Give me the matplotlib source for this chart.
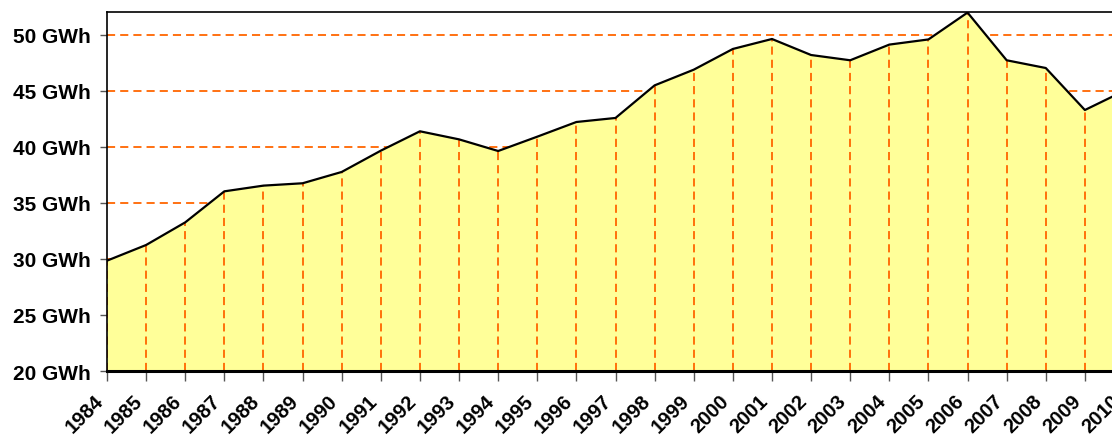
import numpy as np
import matplotlib
matplotlib.use("Agg")
import matplotlib.pyplot as plt

# yearly values (GWh)
years = list(range(1984, 2011))
energy = [29.85, 31.25, 33.27, 36.04, 36.55, 36.76, 37.77, 39.67, 41.4, 40.68,
          39.64, 40.92, 42.23, 42.59, 45.5, 46.9, 48.75, 49.64, 48.21, 47.74,
          49.14, 49.6, 52.0, 47.74, 47.05, 43.3, 45.0]
y_ticks = [20, 25, 30, 35, 40, 45, 50]
y_labels = [f"{v} GWh" for v in y_ticks]

orange = "#FF6600"
dash = (0, (4.5, 2.8))

plt.rcParams['font.family'] = ['Liberation Sans', 'DejaVu Sans']

fig = plt.figure(figsize=(11.12, 4.39), dpi=100)
# axes runs a bit past the right edge of the picture, as in the original
ax = fig.add_axes([107 / 1112, 67 / 439, (1124 - 107) / 1112, (372 - 13) / 439])

ax.fill_between(years, 20, energy, color="#FFFF99", zorder=2, linewidth=0)
ax.plot(years, energy, color="black", linewidth=1.6, zorder=4)
ax.vlines(years, 20, energy, colors=orange, linestyles=dash, linewidth=1.3, zorder=3)

ax.set_xlim(1984, 2010)
ax.set_ylim(20, 52.05)

ax.set_yticks(y_ticks)
ax.set_yticklabels(y_labels, fontsize=15, fontweight="bold")
ax.set_xticks(years)
ax.set_xticklabels([str(y) for y in years], fontsize=14.5, fontweight="bold",
                   rotation=45, ha="right", va="top")

ax.yaxis.grid(True, color=orange, linestyle=dash, linewidth=1.3)
ax.set_axisbelow(True)
ax.grid(False, axis="x")

ax.tick_params(axis="y", length=5, width=1, color="#555555", pad=7)
ax.tick_params(axis="x", length=7, width=1, color="#555555", pad=7)

ax.spines["left"].set_linewidth(1.2)
ax.spines["top"].set_linewidth(1.2)
ax.spines["bottom"].set_linewidth(2.2)
ax.spines["right"].set_visible(False)
for s in ax.spines.values():
    s.set_zorder(5)

fig.savefig("out.png", dpi=100)
